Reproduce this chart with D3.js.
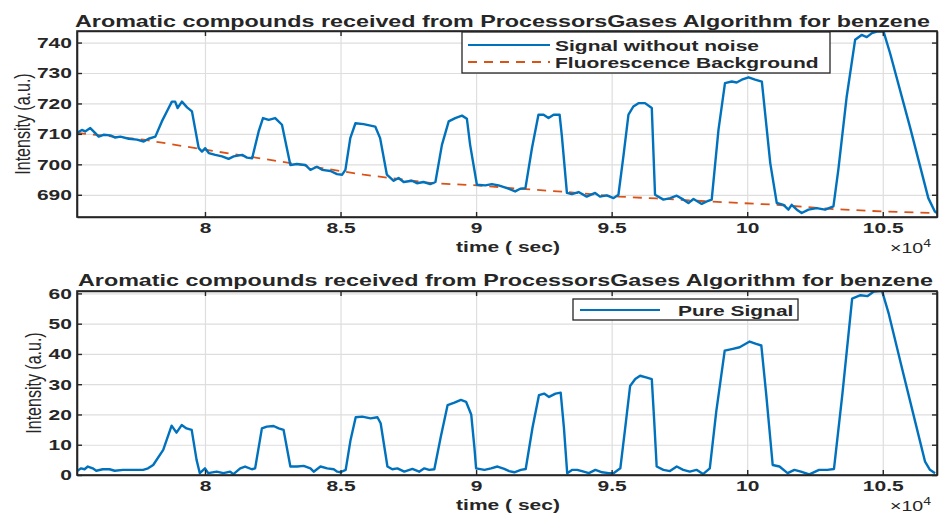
<!DOCTYPE html>
<html>
<head>
<meta charset="utf-8">
<script src="https://cdn.jsdelivr.net/npm/d3@7"></script>
<style>
  body { margin: 0; background: #fff; }
  svg { display: block; }
</style>
</head>
<body>
<div id="chart"></div>
<script>
// data: [time (sec), intensity]
const signalWithoutNoise = [
  [75280, 710.3], [75460, 711.3], [75580, 710.8], [75770, 711.9], [75890, 710.8], [76080, 709.1],
  [76260, 709.7], [76510, 709.5], [76690, 708.8], [76880, 709.1], [77190, 708.4], [77490, 708.1],
  [77740, 707.5], [77920, 708.4], [78170, 709.1], [78410, 714.1], [78660, 718.5], [78780, 720.6],
  [78900, 720.6], [78990, 718.5], [79150, 720.6], [79340, 718.7], [79520, 717.4], [79770, 705.3],
  [79890, 704.2], [80010, 705.3], [80140, 703.7], [80380, 703.1], [80630, 702.6], [80870, 701.8],
  [81060, 702.6], [81370, 703.1], [81550, 702.2], [81740, 702.0], [81980, 710.8], [82140, 715.2],
  [82350, 714.6], [82590, 715.2], [82840, 713.0], [83150, 699.8], [83390, 700.1], [83700, 699.8],
  [83890, 698.2], [84130, 699.2], [84320, 698.2], [84630, 697.8], [84870, 696.8], [85060, 696.6],
  [85180, 698.2], [85360, 708.6], [85550, 713.5], [85850, 713.2], [86280, 712.4], [86460, 708.6],
  [86710, 696.6], [86960, 694.6], [87140, 695.5], [87330, 694.2], [87630, 694.6], [87820, 693.8],
  [88060, 694.2], [88310, 693.5], [88500, 694.2], [88740, 706.4], [88990, 714.1], [89230, 715.2],
  [89480, 716.0], [89660, 715.0], [89780, 706.4], [90030, 693.3], [90340, 693.1], [90580, 693.5],
  [90830, 693.1], [91140, 692.2], [91440, 691.1], [91630, 692.0], [91820, 692.2], [92060, 705.3],
  [92300, 716.3], [92490, 716.3], [92670, 715.2], [92860, 716.3], [93080, 716.3], [93160, 709.7],
  [93350, 690.6], [93530, 690.2], [93780, 690.9], [94080, 689.4], [94390, 690.6], [94570, 689.4],
  [94820, 689.8], [95070, 688.9], [95250, 690.0], [95440, 703.1], [95620, 716.3], [95800, 719.0],
  [95990, 720.1], [96230, 720.1], [96480, 718.5], [96600, 690.0], [96910, 688.4], [97160, 688.9],
  [97400, 689.7], [97650, 688.4], [97830, 687.3], [98020, 688.6], [98320, 687.0], [98510, 687.8],
  [98690, 688.4], [98940, 711.3], [99180, 726.7], [99430, 727.2], [99610, 726.9], [99800, 727.8],
  [100050, 728.6], [100290, 727.8], [100540, 727.2], [100850, 700.4], [101090, 687.3], [101340, 686.7],
  [101520, 685.1], [101640, 686.7], [101830, 685.1], [102010, 684.0], [102260, 685.1], [102560, 685.6],
  [102870, 685.1], [103180, 686.2], [103360, 698.2], [103670, 722.3], [103980, 740.9], [104220, 742.5],
  [104410, 741.8], [104600, 743.1], [104780, 743.6], [105030, 743.6], [105270, 736.5], [106000, 712.4],
  [106680, 688.9], [106920, 684.5], [107100, 683.4]
];

const fluorescenceBackground = [
  [75280, 710.3], [77740, 708.1], [80010, 704.8], [83150, 700.4], [85850, 696.6], [88400, 693.8],
  [90030, 693.1], [91600, 692.0], [93350, 690.9], [95250, 689.4], [96650, 688.8], [98600, 687.8],
  [101090, 686.7], [103180, 685.3], [105030, 684.5], [107000, 684.0]
];

const pureSignal = [
  [75250, 1.1], [75430, 2.2], [75560, 1.9], [75680, 2.8], [75860, 2.2], [75990, 1.4], [76230, 1.9],
  [76480, 1.9], [76670, 1.4], [76980, 1.7], [77350, 1.7], [77720, 1.7], [77900, 2.2], [78090, 3.3],
  [78460, 8.3], [78770, 16.3], [78950, 14.0], [79140, 16.5], [79320, 15.4], [79510, 14.9], [79690, 5.0],
  [79810, 0.6], [80000, 2.2], [80120, 0.6], [80430, 1.1], [80680, 0.6], [80930, 1.1], [81050, 0.3],
  [81300, 2.2], [81480, 2.8], [81730, 1.9], [81850, 2.2], [82100, 15.4], [82280, 16.0], [82530, 16.2],
  [82720, 15.4], [82900, 14.9], [83150, 2.8], [83400, 2.8], [83640, 3.0], [83890, 2.2], [84010, 1.1],
  [84260, 2.8], [84510, 2.2], [84750, 1.9], [84880, 1.1], [85000, 0.9], [85190, 1.7], [85370, 11.6],
  [85560, 19.1], [85800, 19.3], [86110, 18.7], [86360, 19.1], [86480, 17.1], [86730, 2.8], [86910, 1.9],
  [87100, 2.2], [87350, 1.1], [87650, 2.0], [87900, 1.1], [88090, 2.2], [88270, 1.7], [88460, 1.9],
  [88700, 12.7], [88950, 23.1], [89200, 23.9], [89440, 24.8], [89630, 24.2], [89820, 20.0], [89940, 8.9],
  [90000, 2.2], [90310, 1.7], [90550, 2.2], [90790, 2.8], [91040, 2.0], [91220, 1.3], [91410, 0.9],
  [91650, 1.7], [91830, 2.0], [92080, 15.6], [92320, 26.4], [92510, 26.9], [92690, 25.8], [92930, 26.9],
  [93120, 27.2], [93240, 15.6], [93360, 0.6], [93550, 1.7], [93730, 1.7], [93970, 1.1], [94160, 0.6],
  [94400, 1.7], [94650, 0.9], [94890, 0.6], [95070, 0.6], [95320, 2.2], [95500, 15.6], [95680, 29.4],
  [95870, 31.7], [96050, 32.8], [96300, 32.2], [96480, 31.7], [96570, 17.8], [96660, 2.8], [96910, 1.7],
  [97150, 1.3], [97400, 2.8], [97640, 1.7], [97880, 1.1], [98130, 1.7], [98370, 0.3], [98620, 2.2],
  [98860, 21.1], [99170, 41.1], [99470, 41.7], [99720, 42.2], [100090, 44.1], [100330, 43.3], [100520, 42.8],
  [100700, 26.7], [100940, 3.3], [101190, 2.8], [101490, 0.6], [101740, 1.7], [101980, 1.1], [102290, 0.2],
  [102650, 1.7], [102960, 1.7], [103200, 2.0], [103510, 26.7], [103870, 58.3], [104180, 59.4], [104430, 59.1],
  [104670, 60.6], [104970, 60.9], [105220, 53.3], [105700, 35.6], [106190, 17.8], [106560, 4.4], [106740, 1.7],
  [106930, 0.6]
];

const xTicks = [80000, 85000, 90000, 95000, 100000, 105000];
const yTicksTop = [690, 700, 710, 720, 730, 740];
const yTicksBottom = [0, 10, 20, 30, 40, 50, 60];
const titleText = 'Aromatic compounds received from ProcessorsGases Algorithm for benzene';

const W = 941, H = 513;
const SX = 1.4; // the picture is stretched sideways
const INK = '#262626';
const BLUE = '#0072BD';
const ORANGE = '#D95319';
const FONT = '"Liberation Sans", Arial, sans-serif';

const svg = d3.select('#chart').append('svg').attr('width', W).attr('height', H);

const x = d3.scaleLinear().domain([75280, 107000]).range([77, 937]);

const label = (g, px, py, str, size, weight, anchor) =>
  g.append('text')
      .attr('transform', `translate(${px},${py}) scale(${SX},1)`)
      .attr('text-anchor', anchor || 'middle')
      .attr('font-family', FONT)
      .attr('font-size', size)
      .attr('font-weight', weight || 'bold')
      .attr('fill', INK)
      .text(str);

function drawPanel(opt) {
  const g = svg.append('g');
  const y = d3.scaleLinear().domain(opt.yDomain).range([opt.bottom, opt.top]);
  const h = opt.bottom - opt.top;
  const w = x.range()[1] - x.range()[0];

  // grid
  g.append('g')
      .attr('transform', `translate(0,${opt.bottom})`)
      .call(d3.axisBottom(x).tickValues(xTicks).tickSize(-h).tickFormat(''))
      .call((s) => s.select('.domain').remove())
      .selectAll('line').attr('stroke', '#dedede').attr('stroke-width', 1.2);
  g.append('g')
      .attr('transform', `translate(${x.range()[0]},0)`)
      .call(d3.axisLeft(y).tickValues(opt.yTicks).tickSize(-w).tickFormat(''))
      .call((s) => s.select('.domain').remove())
      .selectAll('line').attr('stroke', '#dedede').attr('stroke-width', 1.2);

  // lines
  const clipId = 'clip' + opt.top;
  svg.append('clipPath').attr('id', clipId)
      .append('rect').attr('x', x.range()[0]).attr('y', opt.top).attr('width', w).attr('height', h + 1);
  const line = d3.line().x((d) => x(d[0])).y((d) => y(d[1]));
  opt.series.forEach((s) => {
    g.append('path')
        .datum(s.data)
        .attr('clip-path', `url(#${clipId})`)
        .attr('fill', 'none')
        .attr('stroke', s.color)
        .attr('stroke-width', s.width)
        .attr('stroke-dasharray', s.dash || null)
        .attr('stroke-linejoin', 'round')
        .attr('d', line);
  });

  // axes, ticks pointing inward
  const styleAxis = (s) => {
    s.select('.domain').attr('stroke', INK).attr('stroke-width', 1.6);
    s.selectAll('.tick line').attr('stroke', INK).attr('stroke-width', 1.4);
    s.selectAll('.tick text')
        .attr('transform', `scale(${SX},1)`)
        .attr('font-family', FONT)
        .attr('font-size', 15)
        .attr('font-weight', 'bold')
        .attr('fill', INK);
  };
  g.append('g')
      .attr('transform', `translate(0,${opt.bottom})`)
      .call(d3.axisBottom(x).tickValues(xTicks).tickSize(-5).tickSizeOuter(0).tickPadding(5)
          .tickFormat((d) => d3.format('~g')(d / 1e4)))
      .call(styleAxis);
  g.append('g')
      .attr('transform', `translate(0,${opt.top})`)
      .call(d3.axisTop(x).tickValues(xTicks).tickSize(-5).tickSizeOuter(0).tickFormat(''))
      .call(styleAxis);
  g.append('g')
      .attr('transform', `translate(${x.range()[0]},0)`)
      .call(d3.axisLeft(y).tickValues(opt.yTicks).tickSize(-5).tickSizeOuter(0).tickPadding(3.6))
      .call(styleAxis);
  g.append('g')
      .attr('transform', `translate(${x.range()[1]},0)`)
      .call(d3.axisRight(y).tickValues(opt.yTicks).tickSize(-5).tickSizeOuter(0).tickFormat(''))
      .call(styleAxis);

  // title and labels
  label(g, opt.titleX, opt.titleY, titleText, 16.5, 'bold')
      .attr('transform', null)
      .attr('x', opt.titleX).attr('y', opt.titleY)
      .attr('textLength', 855).attr('lengthAdjust', 'spacingAndGlyphs');
  label(g, 508, opt.xLabelY, 'time ( sec)', 15, 'bold');
  const mult = label(g, 931, opt.xLabelY + 1, '\u00d710', 14, 'normal', 'end');
  mult.append('tspan').attr('font-size', 10).attr('dy', -6).text('4');
  g.append('text')
      .attr('transform', `translate(${opt.yLabelX},${(opt.top + opt.bottom) / 2}) scale(${SX},1) rotate(-90)`)
      .attr('text-anchor', 'middle')
      .attr('dy', '0.35em')
      .attr('font-family', FONT)
      .attr('font-size', 16)
      .attr('fill', INK)
      .text('Intensity (a.u.)');

  // legend
  const lg = opt.legend;
  g.append('rect')
      .attr('x', lg.x).attr('y', lg.y).attr('width', lg.w).attr('height', lg.h)
      .attr('fill', '#fff').attr('stroke', INK).attr('stroke-width', 1.3);
  lg.items.forEach((it, i) => {
    const cy = lg.firstY + i * 17;
    g.append('line')
        .attr('x1', lg.lineX1).attr('x2', lg.lineX2).attr('y1', cy).attr('y2', cy)
        .attr('stroke', it.color).attr('stroke-width', 2)
        .attr('stroke-dasharray', it.dash || null);
    label(g, lg.textX, cy + 5.5, it.name, 15, 'bold', 'start');
  });

  // box on top
  g.append('rect')
      .attr('x', x.range()[0]).attr('y', opt.top).attr('width', w).attr('height', h)
      .attr('fill', 'none').attr('stroke', INK).attr('stroke-width', 1.6);
}

drawPanel({
  top: 31, bottom: 217,
  yDomain: [682.7, 743.8], yTicks: yTicksTop,
  titleX: 502.5, titleY: 27, xLabelY: 252, yLabelX: 22,
  series: [
    {data: fluorescenceBackground, color: ORANGE, width: 1.8, dash: '9,7'},
    {data: signalWithoutNoise, color: BLUE, width: 2.4}
  ],
  legend: {
    x: 462, y: 32, w: 368, h: 41, firstY: 45, lineX1: 468, lineX2: 550, textX: 555,
    items: [
      {name: 'Signal without noise', color: BLUE},
      {name: 'Fluorescence Background', color: ORANGE, dash: '9,7'}
    ]
  }
});

drawPanel({
  top: 291, bottom: 475,
  yDomain: [0, 60.8], yTicks: yTicksBottom,
  titleX: 505.5, titleY: 286, xLabelY: 510, yLabelX: 33,
  series: [
    {data: pureSignal, color: BLUE, width: 2.4}
  ],
  legend: {
    x: 573, y: 299, w: 225, h: 21, firstY: 310, lineX1: 580, lineX2: 660, textX: 678,
    items: [
      {name: 'Pure Signal', color: BLUE}
    ]
  }
});
</script>
</body>
</html>
